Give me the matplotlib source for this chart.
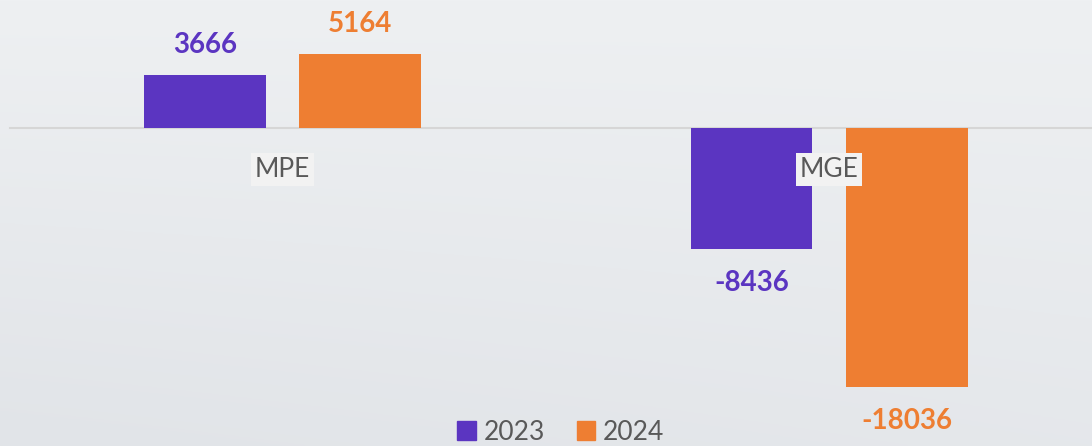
import numpy as np
import matplotlib.pyplot as plt
from matplotlib.patches import Patch

# Data
categories = ["MPE", "MGE"]
series_names = ["2023", "2024"]
values_2023 = [3666, -8436]
values_2024 = [5164, -18036]

colors = {"2023": "#5b35c1", "2024": "#ee7e32"}
text_gray = "#595959"

plt.rcParams["font.family"] = ["Lato", "DejaVu Sans"]

fig = plt.figure(figsize=(10.92, 4.46), dpi=100)

# Background gradient
bg = fig.add_axes([0, 0, 1, 1], zorder=-2)
grad_y = np.linspace(0, 1, 200)[:, None]
grad_x = np.linspace(0, 1, 200)[None, :]
grad = 0.7 * grad_y + 0.3 * (1 - grad_x) * grad_y
c_top = np.array([0xee, 0xf0, 0xf2]) / 255.0
c_bot = np.array([0xe1, 0xe4, 0xe8]) / 255.0
img = c_top[None, None, :] * (1 - grad[..., None]) + c_bot[None, None, :] * grad[..., None]
bg.imshow(img, aspect="auto", extent=[0, 1, 0, 1], origin="upper")
bg.axis("off")

ax = fig.add_axes([0, 0, 1, 1])
ax.set_facecolor("none")

x = np.arange(len(categories))
width = 0.223
offset = 0.142

bars_23 = ax.bar(x - offset, values_2023, width, color=colors["2023"], zorder=2)
bars_24 = ax.bar(x + offset, values_2024, width, color=colors["2024"], zorder=2)

ax.set_xlim(-0.517, 1.481)
ax.set_ylim(-22145, 8914)
ax.axhline(0, xmin=10 / 1092, xmax=1, color="#d6d6d6", lw=1.5, zorder=1)

# Value labels
for bars, vals, name in [(bars_23, values_2023, "2023"), (bars_24, values_2024, "2024")]:
    for b, v in zip(bars, vals):
        dy = 21.6 if v > 0 else -24.5
        ax.annotate(f"{v}", (b.get_x() + b.get_width() / 2, v),
                    xytext=(0, dy), textcoords="offset points",
                    ha="center", va="center", fontsize=20, fontweight="bold",
                    color=colors[name], zorder=4)

# Category labels
for xi, cat in zip(x, categories):
    ax.annotate(cat, (xi, 0), xytext=(0, -30), textcoords="offset points",
                ha="center", va="center", fontsize=19, color=text_gray,
                bbox=dict(boxstyle="square,pad=0.15", fc="#f2f2f2", ec="none"),
                zorder=5)

ax.axis("off")

handles = [Patch(color=colors[n]) for n in series_names]
fig.legend(handles, series_names, loc="center", bbox_to_anchor=(561 / 1092, 1 - 432 / 446),
           ncol=2, frameon=False, fontsize=19, labelcolor=text_gray,
           handlelength=0.7, handleheight=0.7, handletextpad=0.3, columnspacing=1.2)

fig.savefig("out.png", dpi=100)
